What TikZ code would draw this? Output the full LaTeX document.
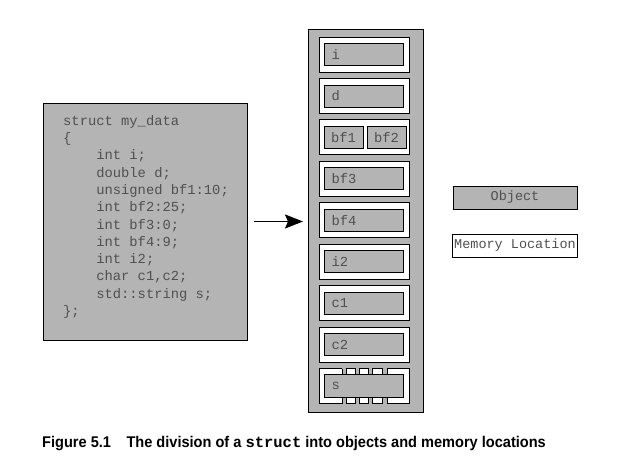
\documentclass[tikz,border=0pt]{standalone}
\usepackage{fontspec}
\setmainfont{Liberation Sans}
\setmonofont{Liberation Mono}
\newfontfamily\captionfont[FakeStretch=0.94]{Liberation Sans}
\usetikzlibrary{positioning,arrows.meta}
\definecolor{boxgray}{HTML}{B4B4B4}
\definecolor{textgray}{HTML}{505050}
\newcommand{\codeindent}{\hphantom{xxxx}}
\tikzset{
block/.style={
draw,
line width=0.85pt,
fill=boxgray,inner sep=0pt,outer sep=0pt},
location/.style={draw,line width=0.85pt,fill=white,minimum width=90pt,minimum height=35pt,inner sep=0pt,outer sep=0pt},
object/.style={block,minimum width=79pt,minimum height=22pt,inner xsep=7pt,text width=65pt,align=left},
halfobject/.style={object,minimum width=39pt,text width=25pt},
line/.style={-{Stealth[length=18pt,width=14pt,inset=3pt]},line width=1.8pt},
font={\fontsize{13.8pt}{17.3pt}\selectfont\ttfamily},
text=textgray
}

\begin{document}
\begin{tikzpicture}[x=1pt,y=-1pt]
  \useasboundingbox (0,0) rectangle (634,462);
  % the struct
  \node[block, minimum width=204pt, minimum height=237pt] (code) at (145,221.5) {};
  \node[anchor=north west, align=left, inner sep=0pt] (listing) at ([xshift=20pt,yshift=-12pt] code.north west)
    {struct my\_data\\
     \{\\
     \codeindent int i;\\
     \codeindent double d;\\
     \codeindent unsigned bf1:10;\\
     \codeindent int bf2:25;\\
     \codeindent int bf3:0;\\
     \codeindent int bf4:9;\\
     \codeindent int i2;\\
     \codeindent char c1,c2;\\
     \codeindent std::string s;\\
     \};};
  % memory layout
  \node[block, minimum width=115pt, minimum height=383pt] (mem) at (365.5,220.5) {};
  \node[location] (li) at (364,54.5) {};
  \node[location, below=6.44pt of li] (ld) {};
  \node[location, below=6.44pt of ld] (lbf) {};
  \node[location, below=6.44pt of lbf] (lbf3) {};
  \node[location, below=6.44pt of lbf3] (lbf4) {};
  \node[location, below=6.44pt of lbf4] (li2) {};
  \node[location, below=6.44pt of li2] (lc1) {};
  \node[location, below=6.44pt of lc1] (lc2) {};
  \node[location, below=6.44pt of lc2] (ls) {};
  % gaps in the location of s
  \fill[boxgray] ([xshift=-22pt,yshift=1pt] ls.north) rectangle ([xshift=23pt,yshift=-6pt] ls.north);
  \fill[boxgray] ([xshift=-22pt,yshift=-1pt] ls.south) rectangle ([xshift=23pt,yshift=6pt] ls.south);
  \draw[line width=0.85pt] ([xshift=-22pt] ls.north) -- ++(0,6) ([xshift=23pt] ls.north) -- ++(0,6);
  \draw[line width=0.85pt] ([xshift=-22pt] ls.south) -- ++(0,-6) ([xshift=23pt] ls.south) -- ++(0,-6);
  \draw[line width=0.85pt,fill=white] ([xshift=-18pt] ls.north) rectangle ([xshift=-8.5pt,yshift=-6pt] ls.north);
  \draw[line width=0.85pt,fill=white] ([xshift=-4.75pt] ls.north) rectangle ([xshift=4.75pt,yshift=-6pt] ls.north);
  \draw[line width=0.85pt,fill=white] ([xshift=8.5pt] ls.north) rectangle ([xshift=18pt,yshift=-6pt] ls.north);
  \draw[line width=0.85pt,fill=white] ([xshift=-18pt] ls.south) rectangle ([xshift=-8.5pt,yshift=6pt] ls.south);
  \draw[line width=0.85pt,fill=white] ([xshift=-4.75pt] ls.south) rectangle ([xshift=4.75pt,yshift=6pt] ls.south);
  \draw[line width=0.85pt,fill=white] ([xshift=8.5pt] ls.south) rectangle ([xshift=18pt,yshift=6pt] ls.south);
  % objects
  \node[object] (i) at (li) {i};
  \node[object] (d) at (ld) {d};
  \node[halfobject] (bf1) at ([xshift=-20.5pt] lbf.center) {bf1};
  \node[halfobject] (bf2) at ([xshift=22.5pt] lbf.center) {bf2};
  \node[object] (bf3) at (lbf3) {bf3};
  \node[object] (bf4) at (lbf4) {bf4};
  \node[object] (i2) at (li2) {i2};
  \node[object] (c1) at (lc1) {c1};
  \node[object] (c2) at (lc2) {c2};
  \node[object, minimum height=23pt] (s) at ([yshift=0.5pt] ls.center) {s};
  \draw[line,black] ([xshift=7pt] code.east) -- ([xshift=-5pt] mem.west |- code.east);
  % legend
  \node[block, minimum width=124pt, minimum height=23pt, font={\fontsize{13.5pt}{16pt}\selectfont\ttfamily}] (object) at (515,197.5) {Object};
  \node[location, minimum width=125pt, minimum height=23pt, below=25pt of object, font={\fontsize{13.5pt}{16pt}\selectfont\ttfamily}] (memloc) {Memory Location};
  \node[anchor=base west, inner sep=0pt, text=black, font={\captionfont\bfseries\fontsize{15.5pt}{18pt}\selectfont}] (caption) at (42,447)
    {Figure 5.1\quad The division of a {\ttfamily struct} into objects and memory locations};
\end{tikzpicture}
\end{document}
